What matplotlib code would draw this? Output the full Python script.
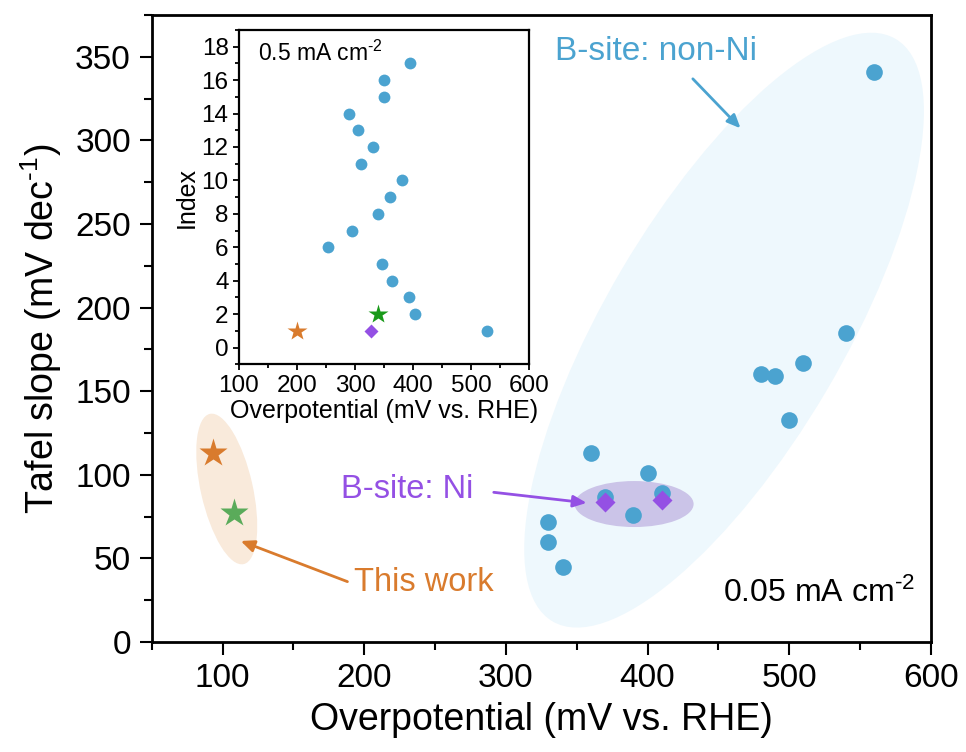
import numpy as np
import matplotlib.pyplot as plt
from matplotlib.patches import Ellipse
from matplotlib.transforms import ScaledTranslation
from matplotlib.ticker import MultipleLocator

plt.rcParams['font.family'] = ['Liberation Sans', 'DejaVu Sans']
plt.rcParams['mathtext.fontset'] = 'custom'
plt.rcParams['mathtext.rm'] = 'Liberation Sans'
plt.rcParams['mathtext.default'] = 'regular'

# main panel data (0.05 mA cm-2)
non_ni_x = [360, 400, 370, 410, 390, 330, 330, 340, 560, 540, 510, 480, 490, 500]
non_ni_y = [113, 101, 87, 89, 76, 72, 60, 45, 341, 185, 167, 160, 159, 133]
ni_x = [370, 410]
ni_y = [84, 85]
work1_x, work1_y = [93], [113]
work2_x, work2_y = [108], [77]

# inset data (0.5 mA cm-2)
inset_idx = list(range(1, 18))
inset_eta = [528, 403, 393, 363, 347, 253, 295, 340, 360, 380, 310, 330, 305, 290, 350, 350, 395]
inset_ni_eta, inset_ni_idx = [328], [1]
inset_w1_eta, inset_w1_idx = [200], [1]
inset_w2_eta, inset_w2_idx = [339], [2]

BLUE = '#4ba3d0'
ORANGE = '#d97b2d'
GREEN_MAIN = '#5aab5a'
GREEN_INSET = '#1a9a1a'
PURPLE = '#9450e4'

fig = plt.figure(figsize=(9.66, 7.52), dpi=100)
ax = fig.add_axes([0.157, 0.1463, 0.8067, 0.8338])
ax.set_xlim(50, 600)
ax.set_ylim(0, 375)


def add_ellipse(ax, cx, cy, w_in, h_in, angle, color, z):
    # ellipse sized in inches, centred on a data point
    tr = fig.dpi_scale_trans + ScaledTranslation(cx, cy, ax.transData)
    e = Ellipse((0, 0), w_in, h_in, angle=angle, transform=tr,
                facecolor=color, edgecolor='none', zorder=z)
    ax.add_patch(e)


add_ellipse(ax, 454, 186.5, 6.76, 2.38, 59.5, '#eef8fd', 0)
add_ellipse(ax, 103, 91.5, 1.54, 0.52, 102.7, '#f9eadb', 0)
add_ellipse(ax, 390.5, 82.5, 1.19, 0.46, 0, '#cbc4e8', 1)

ax.plot(non_ni_x, non_ni_y, 'o', color=BLUE, ms=12, mec='none', zorder=2)
ax.plot(ni_x, ni_y, 'D', color=PURPLE, ms=10.5, mec='none', zorder=3)
ax.plot(work1_x, work1_y, '*', color=ORANGE, ms=21, mec='none', zorder=3)
ax.plot(work2_x, work2_y, '*', color=GREEN_MAIN, ms=21, mec='none', zorder=3)

ax.xaxis.set_major_locator(MultipleLocator(100))
ax.xaxis.set_minor_locator(MultipleLocator(50))
ax.yaxis.set_major_locator(MultipleLocator(50))
ax.yaxis.set_minor_locator(MultipleLocator(25))
ax.tick_params(which='major', length=9, width=1.5, labelsize=24, pad=6)
ax.tick_params(which='minor', length=5.5, width=1.5)
for s in ax.spines.values():
    s.set_linewidth(2)
ax.set_xlabel('Overpotential (mV vs. RHE)', fontsize=27, labelpad=6)
ax.set_ylabel(r'Tafel slope (mV dec$^{\text{-}1}$)', fontsize=27, labelpad=8)

arrow = dict(arrowstyle='-|>,head_length=0.8,head_width=0.35', lw=2)
ax.annotate('', xy=(467, 306), xytext=(430.6, 338),
            arrowprops=dict(arrow, color=BLUE))
ax.text(406, 353, 'B-site: non-Ni', color=BLUE, fontsize=24, ha='center', va='center')
ax.annotate('', xy=(359, 83), xytext=(289.5, 89.7),
            arrowprops=dict(arrow, color=PURPLE))
ax.text(277, 91, 'B-site: Ni', color=PURPLE, fontsize=23.5, ha='right', va='center')
ax.annotate('', xy=(111, 61), xytext=(190, 35.5),
            arrowprops=dict(arrow, color=ORANGE))
ax.text(193, 35.3, 'This work', color=ORANGE, fontsize=23.5, ha='left', va='center')
ax.text(589, 29.3, r'0.05 mA cm$^{\text{-}2}$', color='black', fontsize=23, ha='right', va='center')

# inset
ins = fig.add_axes([0.2474, 0.5156, 0.3005, 0.4445])
ins.set_xlim(100, 600)
ins.set_ylim(-1, 19)
ins.plot(inset_eta, inset_idx, 'o', color=BLUE, ms=8.5, mec='none', zorder=2)
ins.plot(inset_w1_eta, inset_w1_idx, '*', color=ORANGE, ms=15, mec='none', zorder=3)
ins.plot(inset_w2_eta, inset_w2_idx, '*', color=GREEN_INSET, ms=15, mec='none', zorder=3)
ins.plot(inset_ni_eta, inset_ni_idx, 'D', color=PURPLE, ms=7, mec='none', zorder=3)
ins.xaxis.set_major_locator(MultipleLocator(100))
ins.xaxis.set_minor_locator(MultipleLocator(50))
ins.yaxis.set_major_locator(MultipleLocator(2))
ins.yaxis.set_minor_locator(MultipleLocator(1))
ins.tick_params(which='major', length=4.5, width=1.3, labelsize=17.5, pad=3)
ins.tick_params(which='minor', length=3, width=1.3)
for s in ins.spines.values():
    s.set_linewidth(1.6)
ins.set_xlabel('Overpotential (mV vs. RHE)', fontsize=18, labelpad=2)
ins.set_ylabel('Index', fontsize=18, labelpad=2)
ins.text(132, 17.6, r'0.5 mA cm$^{\text{-}2}$', fontsize=16.5, ha='left', va='center')

fig.savefig('out.png', dpi=100)
